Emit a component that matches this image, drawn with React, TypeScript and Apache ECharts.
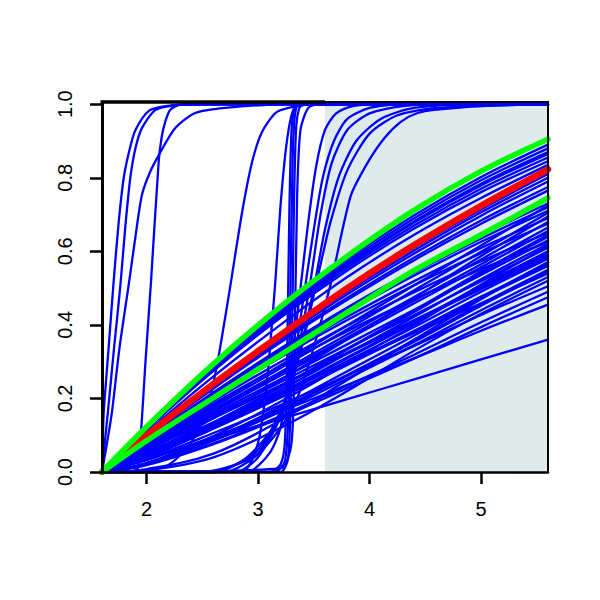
import React, { useEffect, useRef } from 'react';
import * as echarts from 'echarts';

// ---------- data ----------
const xKnots = [1.6, 2.0, 2.6, 3.2, 3.8, 4.4, 5.0, 5.6];
const xTicks = [2, 3, 4, 5];
const yTicks = [0, 0.2, 0.4, 0.6, 0.8, 1.0];
const shadeRange = [3.6, 5.6];
const xRange = [1.6, 5.6];
const yRange = [0, 1.006];

// thick reference curves (values at xKnots)
const redCurve = [0, 0.1, 0.24, 0.372, 0.5, 0.617, 0.724, 0.823];
const greenUpper = [0, 0.123, 0.294, 0.449, 0.587, 0.712, 0.818, 0.905];
const greenLower = [0, 0.085, 0.202, 0.318, 0.434, 0.548, 0.645, 0.745];

// blue near-linear curves (values at xKnots)
const bundleHigh = [
  [0, 0.121, 0.289, 0.441, 0.578, 0.698, 0.802, 0.89],
  [0, 0.12, 0.286, 0.436, 0.571, 0.69, 0.793, 0.88],
  [0, 0.118, 0.283, 0.432, 0.565, 0.682, 0.784, 0.87],
  [0, 0.118, 0.281, 0.429, 0.561, 0.678, 0.779, 0.865],
  [0, 0.116, 0.278, 0.424, 0.555, 0.67, 0.77, 0.855],
  [0, 0.115, 0.275, 0.419, 0.548, 0.662, 0.761, 0.845],
  [0, 0.108, 0.26, 0.4, 0.53, 0.645, 0.745, 0.835],
];
const bundleMid = [
  [0, 0.099, 0.241, 0.373, 0.496, 0.61, 0.714, 0.81],
  [0, 0.098, 0.238, 0.368, 0.49, 0.602, 0.706, 0.8],
  [0, 0.097, 0.235, 0.363, 0.483, 0.594, 0.697, 0.79],
  [0, 0.095, 0.23, 0.357, 0.474, 0.583, 0.684, 0.775],
  [0, 0.094, 0.227, 0.352, 0.468, 0.576, 0.675, 0.765],
];
const bundleLow = [
  [0, 0.089, 0.217, 0.336, 0.447, 0.549, 0.644, 0.73],
  [0, 0.0725, 0.181, 0.29, 0.399, 0.508, 0.616, 0.725],
  [0, 0.088, 0.214, 0.331, 0.441, 0.542, 0.635, 0.72],
  [0, 0.087, 0.211, 0.327, 0.435, 0.534, 0.626, 0.71],
  [0, 0.071, 0.176, 0.282, 0.388, 0.494, 0.599, 0.705],
  [0, 0.049, 0.146, 0.25, 0.361, 0.473, 0.587, 0.695],
  [0, 0.085, 0.205, 0.317, 0.422, 0.519, 0.609, 0.69],
  [0, 0.068, 0.17, 0.272, 0.374, 0.476, 0.578, 0.68],
  [0, 0.083, 0.2, 0.311, 0.413, 0.508, 0.595, 0.675],
  [0, 0.067, 0.166, 0.266, 0.366, 0.466, 0.565, 0.665],
  [0, 0.066, 0.164, 0.262, 0.36, 0.459, 0.557, 0.655],
  [0, 0.08, 0.193, 0.299, 0.398, 0.489, 0.573, 0.65],
  [0, 0.045, 0.135, 0.232, 0.335, 0.439, 0.545, 0.645],
  [0, 0.045, 0.134, 0.23, 0.333, 0.435, 0.541, 0.64],
  [0, 0.063, 0.158, 0.252, 0.347, 0.441, 0.536, 0.63],
  [0, 0.077, 0.186, 0.288, 0.383, 0.47, 0.551, 0.625],
  [0, 0.043, 0.13, 0.223, 0.322, 0.422, 0.524, 0.62],
  [0, 0.025, 0.098, 0.191, 0.295, 0.4, 0.51, 0.615],
  [0, 0.061, 0.153, 0.244, 0.336, 0.427, 0.519, 0.61],
  [0, 0.042, 0.126, 0.216, 0.312, 0.408, 0.507, 0.6],
  [0, 0.042, 0.125, 0.214, 0.309, 0.405, 0.503, 0.595],
  [0, 0.059, 0.148, 0.236, 0.325, 0.413, 0.502, 0.59],
  [0, 0.059, 0.146, 0.234, 0.322, 0.41, 0.497, 0.585],
  [0, 0.041, 0.122, 0.209, 0.302, 0.394, 0.49, 0.58],
  [0, 0.023, 0.091, 0.177, 0.274, 0.371, 0.473, 0.57],
  [0, 0.04, 0.119, 0.203, 0.294, 0.384, 0.477, 0.565],
  [0, 0.039, 0.118, 0.202, 0.291, 0.381, 0.473, 0.56],
  [0, 0.022, 0.088, 0.171, 0.264, 0.358, 0.457, 0.55],
  [0, 0.022, 0.087, 0.169, 0.262, 0.354, 0.452, 0.545],
  [0, 0.054, 0.135, 0.216, 0.297, 0.378, 0.459, 0.54],
  [0, 0.021, 0.085, 0.164, 0.254, 0.345, 0.44, 0.53],
];
const bundleSlow = [
  [0, 0.035, 0.106, 0.182, 0.263, 0.343, 0.427, 0.505],
  [0, 0.02, 0.078, 0.152, 0.235, 0.319, 0.407, 0.49],
  [0, 0.019, 0.076, 0.147, 0.228, 0.309, 0.394, 0.475],
  [0, 0.032, 0.096, 0.164, 0.237, 0.309, 0.384, 0.455],
  [0, 0.036, 0.09, 0.144, 0.198, 0.252, 0.306, 0.36],
  [0, 0.005, 0.04, 0.12, 0.22, 0.33, 0.43, 0.52],
  [0, 0.008, 0.05, 0.14, 0.25, 0.36, 0.47, 0.57],
];

// blue curves that saturate at 1 ([x, y] points)
const steepCurves = [
  [[1.6, 0], [1.607, 0.08], [1.615, 0.16], [1.66, 0.34], [1.705, 0.52], [1.75, 0.68], [1.795, 0.8], [1.85, 0.88], [1.9, 0.93], [2.02, 0.982], [2.17, 0.995], [2.4, 1], [5.6, 1]],
  [[1.6, 0], [1.625, 0.08], [1.652, 0.16], [1.709, 0.34], [1.765, 0.508], [1.81, 0.67], [1.854, 0.8], [1.9, 0.88], [1.958, 0.935], [2.078, 0.984], [2.25, 0.997], [2.5, 1], [5.6, 1]],
  [[1.6, 0], [1.85, 0], [1.92, 0.01], [1.944, 0.08], [1.99, 0.3], [2.04, 0.52], [2.108, 0.843], [2.135, 0.91], [2.167, 0.952], [2.212, 0.985], [2.3, 0.998], [5.6, 1]],
  [[1.6, 0], [1.64, 0.07], [1.688, 0.16], [1.758, 0.34], [1.839, 0.508], [1.9, 0.64], [1.958, 0.753], [2.03, 0.815], [2.108, 0.861], [2.257, 0.935], [2.436, 0.976], [2.705, 0.99], [3.2, 0.999], [5.6, 1]],
];
const sigmoidCurve = [[1.6, 0], [2.0, 0.003], [2.2, 0.02], [2.4, 0.08], [2.55, 0.18], [2.637, 0.3], [2.71, 0.43], [2.752, 0.508], [2.857, 0.707], [2.946, 0.843], [3.036, 0.925], [3.155, 0.976], [3.274, 0.99], [3.5, 1], [5.6, 1]];
const stepCurves = [
  [[1.6, 0], [3.1, 0], [3.2, 0.02], [3.24, 0.08], [3.26, 0.3], [3.28, 0.7], [3.3, 0.93], [3.33, 0.99], [3.4, 1], [5.6, 1]],
  [[1.6, 0], [3.15, 0], [3.24, 0.03], [3.27, 0.15], [3.29, 0.5], [3.31, 0.85], [3.33, 0.97], [3.37, 1], [5.6, 1]],
  [[1.6, 0], [3.2, 0], [3.27, 0.04], [3.3, 0.3], [3.32, 0.7], [3.34, 0.93], [3.37, 0.99], [3.42, 1], [5.6, 1]],
  [[1.6, 0], [3.2, 0.01], [3.3, 0.08], [3.33, 0.4], [3.35, 0.75], [3.38, 0.93], [3.45, 0.99], [3.55, 1], [5.6, 1]],
  [[1.6, 0], [2.85, 0], [3.0, 0.08], [3.08, 0.25], [3.155, 0.52], [3.2, 0.72], [3.25, 0.88], [3.3, 0.97], [3.36, 1], [5.6, 1]],
];
const riseCurves = [
  [[1.6, 0], [2.9, 0], [3.1, 0.05], [3.2, 0.12], [3.3, 0.3], [3.38, 0.5], [3.45, 0.68], [3.52, 0.83], [3.6, 0.93], [3.7, 0.975], [3.85, 0.995], [4.2, 1], [5.6, 1]],
  [[1.6, 0], [2.8, 0], [3.0, 0.04], [3.2, 0.15], [3.32, 0.3], [3.42, 0.5], [3.5, 0.66], [3.58, 0.8], [3.68, 0.9], [3.8, 0.96], [4.0, 0.99], [4.3, 1], [5.6, 1]],
  [[1.6, 0], [2.7, 0], [3.0, 0.05], [3.2, 0.16], [3.35, 0.32], [3.46, 0.5], [3.56, 0.7], [3.66, 0.84], [3.8, 0.93], [4.0, 0.975], [4.3, 0.995], [4.8, 1], [5.6, 1]],
  [[1.6, 0], [2.6, 0], [2.9, 0.04], [3.15, 0.13], [3.35, 0.3], [3.5, 0.5], [3.6, 0.66], [3.72, 0.8], [3.88, 0.9], [4.1, 0.96], [4.4, 0.99], [5.0, 1], [5.6, 1]],
  [[1.6, 0], [2.5, 0], [2.8, 0.02], [3.0, 0.05], [3.2, 0.12], [3.35, 0.2], [3.5, 0.34], [3.65, 0.51], [3.83, 0.75], [3.98, 0.84], [4.13, 0.907], [4.28, 0.952], [4.43, 0.976], [4.6, 0.985], [5.0, 0.995], [5.6, 1]],
  [[1.6, 0], [2.6, 0], [3.0, 0.06], [3.25, 0.2], [3.4, 0.35], [3.55, 0.55], [3.65, 0.68], [3.8, 0.82], [4.0, 0.92], [4.25, 0.97], [4.6, 0.99], [5.6, 1]],
];

const BLUE = '#0000ff';
const RED = '#ff0000';
const GREEN = '#00ff00';
const SHADE = '#dfebeb';
const FONT = 'Liberation Sans, Arial, sans-serif';
const LABEL_SIZE = 20;

const zipKnots = (vals: number[]) => vals.map((v, i) => [xKnots[i], v]);

function lineSeries(data: number[][], color: string, width: number, smooth: number) {
  return {
    type: 'line',
    data,
    showSymbol: false,
    symbol: 'none',
    smooth,
    silent: true,
    lineStyle: { color, width, cap: 'round', join: 'round' },
    emphasis: { disabled: true },
  };
}

export default function App() {
  const ref = useRef<HTMLDivElement>(null);

  useEffect(() => {
    if (!ref.current) return;
    const chart = echarts.init(ref.current, null, { renderer: 'svg' });

    const blueSeries: any[] = [];
    [...bundleHigh, ...bundleMid, ...bundleLow, ...bundleSlow].forEach((c) =>
      blueSeries.push(lineSeries(zipKnots(c), BLUE, 2.3, 0.35))
    );
    [...steepCurves, sigmoidCurve, ...stepCurves, ...riseCurves].forEach((c) =>
      blueSeries.push(lineSeries(c as number[][], BLUE, 2.3, 0.25))
    );

    const shadeSeries = {
      type: 'line',
      data: [],
      silent: true,
      markArea: {
        silent: true,
        itemStyle: { color: SHADE, borderWidth: 0 },
        data: [[{ coord: [shadeRange[0], yRange[0]] }, { coord: [shadeRange[1], yRange[1]] }]],
      },
    };

    const option: any = {
      animation: false,
      backgroundColor: '#ffffff',
      textStyle: { fontFamily: FONT, fontSize: LABEL_SIZE, color: '#000' },
      grid: { left: 102, right: 52, top: 102, bottom: 128, show: false },
      xAxis: {
        type: 'value',
        min: xRange[0],
        max: xRange[1],
        z: 4,
        splitLine: { show: false },
        axisLine: { show: true, onZero: false, lineStyle: { color: '#000', width: 2.5 } },
        axisTick: { show: true, length: 12, customValues: xTicks, lineStyle: { color: '#000', width: 2.5 } },
        axisLabel: {
          customValues: xTicks,
          color: '#000',
          fontSize: LABEL_SIZE,
          fontFamily: FONT,
          margin: 27,
          formatter: (v: number) => String(v),
        },
      },
      yAxis: {
        type: 'value',
        min: yRange[0],
        max: yRange[1],
        z: 4,
        splitLine: { show: false },
        axisLine: { show: true, onZero: false, lineStyle: { color: '#000', width: 3 } },
        axisTick: { show: true, length: 12, customValues: yTicks, lineStyle: { color: '#000', width: 2.5 } },
        axisLabel: {
          customValues: yTicks,
          color: '#000',
          fontSize: LABEL_SIZE,
          fontFamily: FONT,
          rotate: 90,
          margin: 27,
          formatter: (v: number) => v.toFixed(1),
        },
      },
      series: [
        shadeSeries,
        ...blueSeries,
        lineSeries(zipKnots(redCurve), RED, 6.5, 0.35),
        lineSeries(zipKnots(greenUpper), GREEN, 5.5, 0.35),
        lineSeries(zipKnots(greenLower), GREEN, 5.5, 0.35),
      ],
    };
    chart.setOption(option);

    const tl = chart.convertToPixel({ gridIndex: 0 }, [xRange[0], yRange[1]]) as number[];
    const tm = chart.convertToPixel({ gridIndex: 0 }, [shadeRange[0], yRange[1]]) as number[];
    const tr = chart.convertToPixel({ gridIndex: 0 }, [xRange[1], yRange[1]]) as number[];
    const br = chart.convertToPixel({ gridIndex: 0 }, [xRange[1], yRange[0]]) as number[];
    chart.setOption({
      graphic: [
        { type: 'line', z: 10, silent: true, shape: { x1: tl[0] - 1.5, y1: tl[1], x2: tm[0], y2: tm[1] }, style: { stroke: '#000', lineWidth: 3.5 } },
        { type: 'line', z: 10, silent: true, shape: { x1: tm[0], y1: tm[1], x2: tr[0] + 1, y2: tr[1] }, style: { stroke: '#000', lineWidth: 2 } },
        { type: 'line', z: 10, silent: true, shape: { x1: tr[0], y1: tr[1], x2: br[0], y2: br[1] }, style: { stroke: '#000', lineWidth: 2 } },
      ],
    });

    return () => chart.dispose();
  }, []);

  return (
    <div
      ref={ref}
      style={{ position: 'fixed', left: 0, top: 0, width: 600, height: 600, background: '#fff' }}
    />
  );
}
